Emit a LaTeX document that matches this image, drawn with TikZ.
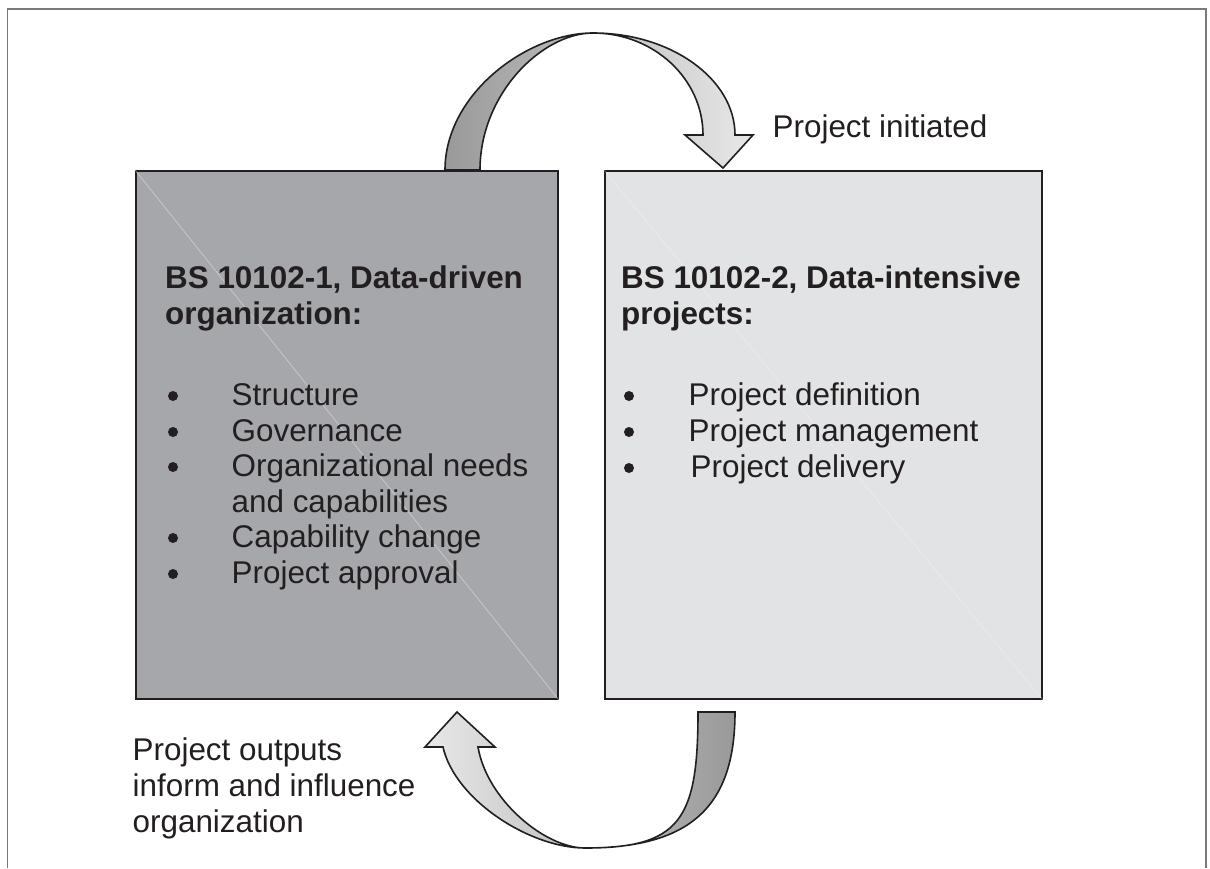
\documentclass[tikz,border=0pt]{standalone}
\usepackage{fontspec}
\setmainfont{Liberation Sans}
\definecolor{ink}{HTML}{231F20}
\definecolor{darkbox}{HTML}{A6A7AA}
\definecolor{lightbox}{HTML}{E2E3E4}
\definecolor{framegray}{HTML}{7A7A7A}
\definecolor{arrdark}{HTML}{999999}
\definecolor{arrlight}{HTML}{E8E8E8}
\tikzset{
  x=1pt, y=-1pt,
  box/.style={draw=ink, line width=2pt, minimum width=422pt, minimum height=528pt, inner sep=0pt},
  txt/.style={anchor=base west, inner sep=0pt, text=ink, font=\fontsize{31.4}{36}\selectfont},
  hd/.style={txt, font=\fontsize{31.4}{36}\selectfont\bfseries},
  bul/.style={circle, fill=ink, inner sep=0pt, minimum size=10pt},
  bigarrow/.style={draw=ink, line width=1.6pt, line join=miter},
  diag/.style={white, opacity=0.45, line width=0.6pt}
}
\begin{document}
\begin{tikzpicture}
\useasboundingbox (0,0) rectangle (1210,868);
% frame
\draw[framegray, line width=1.6pt] (7.5,868) -- (7.5,9) -- (1206,9) -- (1206,868);
% boxes
\node[box, fill=darkbox, anchor=north west, minimum width=422pt] (left) at (135,170) {};
\node[box, fill=lightbox, anchor=north west, minimum width=437pt] (right) at (604,170) {};
\draw[diag] (left.north west) -- (left.south east);
\draw[diag, opacity=0.35] (right.north west) -- (right.south east);
% top arrow
\coordinate (ta) at (593,33);
\shade[left color=arrdark, right color=arrlight, bigarrow]
  (445,170) .. controls (445,94) and (527,33) .. (ta)
  .. controls (671,33) and (735,79) .. (735,135)
  -- (753,135) -- (723,168) -- (685,135) -- (703,135)
  .. controls (703,79) and (654,33) .. (ta)
  .. controls (542,33) and (480,94) .. (480,170) -- cycle;
% bottom arrow
\coordinate (ba) at (585,848);
\shade[left color=arrlight, right color=arrdark, bigarrow]
  (735,712) .. controls (735,807) and (690,848) .. (ba)
  .. controls (530,848) and (455,800) .. (443,747)
  -- (425,747) -- (457,712) -- (495,747) -- (478,747)
  .. controls (487,800) and (545,848) .. (ba)
  .. controls (680,848) and (698,820) .. (698,712) -- cycle;
% left box text
\node[hd] (lh1) at (165,288) {BS 10102-1, Data-driven};
\node[hd] (lh2) at (165,324) {organization:};
\foreach \y/\t [count=\i] in {405/Structure,441/Governance,476/Organizational needs,512/and capabilities,547/Capability change,583/Project approval}{
  \node[txt] (lt\i) at (231.5,\y) {\t};
}
\foreach \y [count=\i] in {405,441,476,547,583}{
  \node[bul] (lb\i) at (173,\y-9) {};
}
% right box text
\node[hd] (rh1) at (621,288) {BS 10102-2, Data-intensive};
\node[hd] (rh2) at (621,324) {projects:};
\node[txt] (rt1) at (688.5,405) {Project definition};
\node[txt] (rt2) at (688.5,441) {Project management};
\node[txt] (rt3) at (690.5,477) {Project delivery};
\foreach \y [count=\i] in {405,441,477}{
  \node[bul] (rb\i) at (629,\y-9) {};
}
% labels
\node[txt] (init) at (772.5,137) {Project initiated};
\node[txt] (out1) at (132.5,760) {Project outputs};
\node[txt] (out2) at (132.5,796) {inform and influence};
\node[txt] (out3) at (132.5,832) {organization};
\end{tikzpicture}
\end{document}
